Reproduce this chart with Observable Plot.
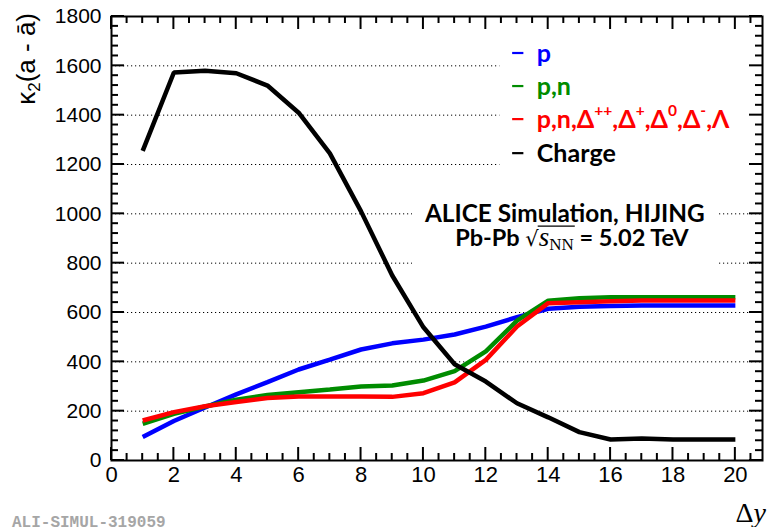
<!DOCTYPE html>
<html><head><meta charset="utf-8">
<script src="https://cdn.jsdelivr.net/npm/d3@7"></script>
<script src="https://cdn.jsdelivr.net/npm/@observablehq/plot@0.6"></script>
<style>
html,body{margin:0;padding:0;background:#fff;}
#chart{width:769px;height:527px;overflow:hidden;}
</style></head><body><div id="chart"></div>
<script>
// ---- data ----
const deltaY = [1,2,3,4,5,6,7,8,9,10,11,12,13,14,15,16,17,18,19,20];
const kappaP      = [95,160,215,268,318,369,409,450,475,490,511,543,581,615,623,626,628,628,628,628];
const kappaPN     = [149,189,219,246,266,277,288,300,304,324,362,442,567,648,658,662,662,662,662,662];
const kappaAll    = [162,196,220,237,253,259,259,259,258,273,317,408,543,638,642,646,649,649,649,649];
const kappaCharge = [1255,1573,1580,1570,1520,1410,1245,1010,750,540,390,320,232,175,115,85,89,85,85,85];
const seriesNames  = ["p", "p,n", "p,n,Δ,Λ", "Charge"];
const seriesColors = ["#0000ff", "#008c00", "#ff0000", "#000000"];
const yMajor = [0,200,400,600,800,1000,1200,1400,1600,1800];
const xMajor = [0,2,4,6,8,10,12,14,16,18,20];
const yMinor = d3.range(0, 1801, 40);
const xMinor = d3.range(0, 20.9, 0.5);

const rows = [kappaP, kappaPN, kappaAll, kappaCharge].flatMap((vals, i) =>
  vals.map((k, j) => ({dy: deltaY[j], k, s: seriesNames[i]})));

// ---- layout ----
const W = 769, H = 527;
const XMAX = 20.87;

const chart = Plot.plot({
  width: W, height: H,
  marginLeft: 111, marginRight: 7, marginTop: 16, marginBottom: 67,
  x: {domain: [0, XMAX]},
  y: {domain: [0, 1800]},
  color: {domain: seriesNames, range: seriesColors},
  style: {fontFamily: "'Liberation Sans', Arial, sans-serif", fontSize: "21px", background: "white", color: "black", overflow: "visible"},
  marks: [
    Plot.gridY(yMajor.slice(1, -1), {stroke: "#000", strokeOpacity: 1, strokeWidth: 1, strokeDasharray: "1.2,2.8"}),
    Plot.rect([{x1: 12.45, x2: XMAX, y1: 1165, y2: 1755}], {x1: "x1", x2: "x2", y1: "y1", y2: "y2", fill: "white"}),
    Plot.rect([{x1: 9.65, x2: 19.45, y1: 750, y2: 1074}], {x1: "x1", x2: "x2", y1: "y1", y2: "y2", fill: "white"}),
    Plot.line(rows, {x: "dy", y: "k", stroke: "s", z: "s", strokeWidth: 4.5, strokeLinejoin: "miter", strokeLinecap: "butt"}),
    Plot.frame({stroke: "black", strokeWidth: 2}),
    Plot.axisY(yMajor, {anchor: "left", tickSize: 0, tickPadding: 10, label: null, fontSize: 21, tickFormat: d => String(d)}),
    Plot.axisX(xMajor, {anchor: "bottom", tickSize: 0, tickPadding: 6, label: null, fontSize: 22, tickFormat: d => String(d)})
  ]
});
document.getElementById("chart").appendChild(chart);

const svg = d3.select(chart);
const sx = chart.scale("x"), sy = chart.scale("y");
const X = v => sx.apply(v), Y = v => sy.apply(v);

// ---- inward ticks on all four sides (positions from the plot's scales) ----
{
  const tg = svg.append("g").attr("stroke", "black").attr("stroke-width", 2);
  const xl = X(0), xr = X(XMAX), yb = Y(0), yt = Y(1800);
  yMinor.forEach(v => {
    const L = yMajor.includes(v) ? 13 : 7, yy = Y(v);
    tg.append("line").attr("x1", xl).attr("x2", xl + L).attr("y1", yy).attr("y2", yy);
    tg.append("line").attr("x1", xr).attr("x2", xr - L).attr("y1", yy).attr("y2", yy);
  });
  xMinor.forEach(v => {
    const L = xMajor.includes(v) ? 13 : 7, xx = X(v);
    tg.append("line").attr("x1", xx).attr("x2", xx).attr("y1", yb).attr("y2", yb - L);
    tg.append("line").attr("x1", xx).attr("x2", xx).attr("y1", yt).attr("y2", yt + L);
  });
}

const SANS_B = "Lato, 'Open Sans', sans-serif";

// ---- legend ----
const legendParts = [
  [{t: "p"}],
  [{t: "p,n"}],
  [{t: "p,n,Δ"}, {t: "++", sup: 1}, {t: ",Δ"}, {t: "+", sup: 1}, {t: ",Δ"}, {t: "0", sup: 1}, {t: ",Δ"}, {t: "-", sup: 1}, {t: ",Λ"}],
  [{t: "Charge"}]
];
const legendRowY = [1650, 1516, 1382, 1244];
const lg = svg.append("g").attr("text-anchor", "start");
const legendTexts = [];
legendParts.forEach((parts, i) => {
  const yy = Y(legendRowY[i]);
  lg.append("line").attr("x1", X(12.86)).attr("x2", X(13.22)).attr("y1", yy).attr("y2", yy)
    .attr("stroke", seriesColors[i]).attr("stroke-width", 2.2);
  const t = lg.append("text").attr("x", X(13.65)).attr("y", yy).attr("dy", "0.36em")
    .attr("text-anchor", "start")
    .attr("fill", seriesColors[i]).attr("font-family", SANS_B).attr("font-weight", 700)
    .attr("font-size", 24);
  let shifted = false;
  parts.forEach(p => {
    const ts = t.append("tspan").text(p.t);
    if (p.sup) { ts.attr("font-size", "0.62em").attr("dy", shifted ? 0 : "-0.75em"); shifted = true; }
    else if (shifted) { ts.attr("dy", "0.465em"); shifted = false; }
  });
  legendTexts.push(t);
});
{
  const w = legendTexts[3].node().getComputedTextLength();
  const f = 24 * 79 / w;
  legendTexts.forEach(t => t.attr("font-size", f));
}

// ---- ALICE annotation ----
const a1 = svg.append("text").attr("x", X(14.55)).attr("y", Y(965)).attr("text-anchor", "middle")
  .attr("font-family", SANS_B).attr("font-weight", 700).attr("font-size", 24).text("ALICE Simulation, HIJING");
{
  const w = a1.node().getComputedTextLength();
  a1.attr("font-size", 24 * 280 / w);
}
const a2 = svg.append("text").attr("x", X(14.55) + 7).attr("y", Y(867)).attr("text-anchor", "middle")
  .attr("font-family", SANS_B).attr("font-weight", 700).attr("font-size", 23.5);
a2.append("tspan").text("Pb-Pb ");
a2.append("tspan").attr("font-family", "'DejaVu Serif', serif").attr("font-weight", 400).attr("font-size", 21).text("√");
a2.append("tspan").attr("font-family", "'Liberation Serif', serif").attr("font-style", "italic").attr("font-weight", 400).attr("font-size", 27).text("s");
a2.append("tspan").attr("font-family", "'Liberation Serif', serif").attr("font-weight", 400).attr("font-size", 17).attr("dy", 4).text("NN");
a2.append("tspan").attr("dy", -4).text(" = 5.02 TeV");
{
  const n = a2.node();
  const r = n.getExtentOfChar(6), e = n.getExtentOfChar(9);
  const yb = Y(867);
  svg.append("line").attr("x1", r.x + r.width - 1).attr("x2", e.x + e.width + 1)
    .attr("y1", yb - 20).attr("y2", yb - 20).attr("stroke", "black").attr("stroke-width", 1.3);
}

// ---- axis titles ----
const ylab = svg.append("text").attr("transform", `translate(35,13) rotate(-90)`).attr("text-anchor", "end")
  .attr("font-family", "'Liberation Sans', Arial, sans-serif").attr("font-size", 26);
ylab.append("tspan").text("κ");
ylab.append("tspan").attr("font-size", 17).attr("dy", 5).text("2");
ylab.append("tspan").attr("dy", -5).text("(a - ā)");

const xlab = svg.append("text").attr("x", 766).attr("y", 522).attr("text-anchor", "end")
  .attr("font-family", "'Liberation Serif', serif").attr("font-size", 28);
xlab.append("tspan").text("Δ");
xlab.append("tspan").attr("font-style", "italic").text("y");

svg.append("text").attr("x", 12).attr("y", 527).attr("text-anchor", "start").attr("font-family", "'Liberation Mono', monospace")
  .attr("font-weight", 700).attr("font-size", 16).attr("fill", "#a6a6a6").text("ALI-SIMUL-319059");
</script>
</body></html>
